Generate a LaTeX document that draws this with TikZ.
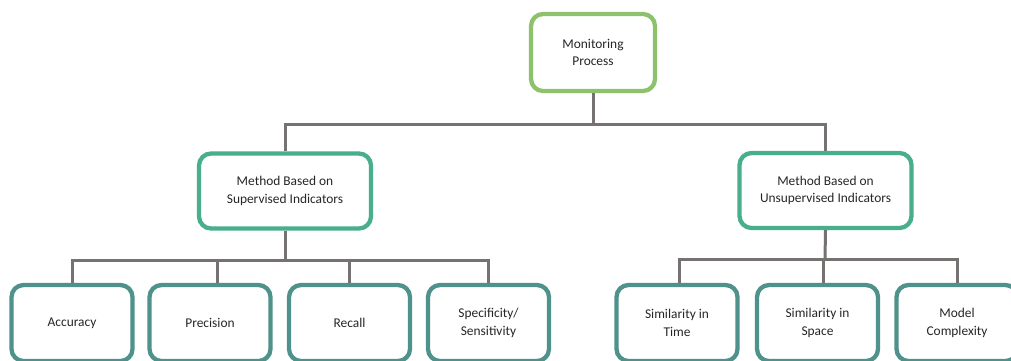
\documentclass[tikz,border=0pt]{standalone}
\usepackage{fontspec}
\setmainfont{Carlito}
\definecolor{rootgreen}{HTML}{8EC16C}
\definecolor{midgreen}{HTML}{48AE8C}
\definecolor{leafteal}{HTML}{4F918B}
\definecolor{linkgray}{HTML}{767272}
\definecolor{txt}{HTML}{262626}
\begin{document}
\begin{tikzpicture}[x=1pt,y=-1pt,
  box/.style={draw, fill=white, rounded corners=12pt, line width=4.3pt,
    align=center, text=txt, inner sep=2pt,
    font=\fontsize{13.4}{17.5}\selectfont},
  rootbox/.style={box, draw=rootgreen, minimum width=124pt, minimum height=77pt},
  midbox/.style={box, draw=midgreen, minimum width=172pt, minimum height=75pt},
  leafbox/.style={box, draw=leafteal, minimum width=121pt, minimum height=76pt},
  link/.style={draw=linkgray, line width=3pt}]
\useasboundingbox (0,0) rectangle (1011,360);

% junction points of the tree
\coordinate (j1) at (593,124);
\coordinate (j2) at (285,260);
\coordinate (j3) at (825,259);

% root
\node[rootbox] (root) at (593,52.5) {Monitoring\\Process};

% method level
\node[midbox] (sup) at (285,191) {Method Based on\\Supervised Indicators};
\node[midbox] (uns) at (825.5,190.5) {Method Based on\\Unsupervised Indicators};

% indicators
\node[leafbox] (acc)  at (72,323)    {Accuracy};
\node[leafbox] (prec) at (210,323)   {Precision};
\node[leafbox] (rec)  at (349.5,323) {Recall};
\node[leafbox] (spec) at (488.5,323) {Specificity/\\Sensitivity};
\node[leafbox] (st)   at (677,323)   {Similarity in\\Time};
\node[leafbox] (ss)   at (817.5,323) {Similarity in\\Space};
\node[leafbox] (mc)   at (957,323)   {Model\\Complexity};

% connectors
\path[link] (root.south) -- (j1);
\path[link] (sup.north) |- (j1) -| (uns.north);

\path[link] (sup.south) -- (j2);
\path[link] (acc.north) |- (j2) -| (spec.north);
\path[link] ([xshift=7pt]prec.north) -- ([xshift=7pt]prec.north |- j2);
\path[link] (rec.north) -- (rec.north |- j2);

\path[link] (uns.south) -- (j3);
\path[link] ([xshift=2pt]st.north) |- (j3) -| (mc.north);
\path[link] ([xshift=6pt]ss.north) -- ([xshift=6pt]ss.north |- j3);
\end{tikzpicture}
\end{document}
